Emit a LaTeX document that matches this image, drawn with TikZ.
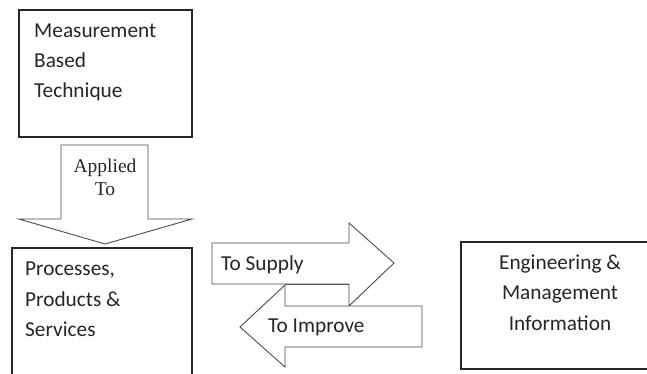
\documentclass[tikz,border=0pt]{standalone}
\usepackage{fontspec}
\setmainfont{Carlito}
\newfontfamily\serifface{Liberation Serif}
\begin{document}
\begin{tikzpicture}[x=1pt,y=-1pt,
  box/.style={draw=black!85,line width=1.3pt,fill=white},
  blockarrow/.style={draw=black!70,line width=0.9pt,fill=white,line join=miter},
  label/.style={inner sep=0pt,anchor=base west,font=\fontsize{21.3}{25}\selectfont,text=black!85},
  clabel/.style={label,anchor=base},
  slabel/.style={inner sep=0pt,anchor=base,font=\serifface\fontsize{19.5}{23}\selectfont,text=black!85}]
  \useasboundingbox (0,0) rectangle (647,373);
  \clip (0,0) rectangle (647,373);

  % technique box
  \draw[box] (19,10) rectangle (192,137);
  \node[label] (m1) at (34,37) {Measurement};
  \node[label] (m2) at (34,67) {Based};
  \node[label] (m3) at (34,97) {Technique};

  % downward block arrow
  \draw[blockarrow] (61,145) -- (148,145) -- (148,219) -- (192,219) -- (105,244)
        -- (19,219) -- (61,219) -- cycle;
  \node[slabel] (a1) at (105,172) {Applied};
  \node[slabel] (a2) at (105,195) {To};

  % processes box
  \draw[box] (12,248) rectangle (192,390);
  \node[label] (p1) at (25,275) {Processes,};
  \node[label] (p2) at (25,306) {Products \&};
  \node[label] (p3) at (25,336) {Services};

  % information box
  \draw[box] (461,242) rectangle (660,369);
  \node[clabel] (e1) at (560,269) {Engineering \&};
  \node[clabel] (e2) at (560,299) {Management};
  \node[clabel] (e3) at (560,330) {Information};

  % two-way block arrows
  \draw[blockarrow] (212,243) -- (349,243) -- (349,223) -- (394,263) -- (349,306)
        -- (349,284) -- (212,284) -- cycle;
  \draw[blockarrow] (422,306) -- (285,306) -- (285,285) -- (240,327) -- (285,367)
        -- (285,347) -- (422,347) -- cycle;
  \draw[blockarrow,fill=none] (285,284) -- (349,284);
  \node[label] (s) at (221,270) {To Supply};
  \node[label] (i) at (268,332) {To Improve};
\end{tikzpicture}
\end{document}
